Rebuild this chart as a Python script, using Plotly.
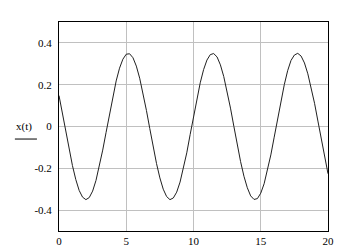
import plotly.graph_objects as go

t_values = [i * 0.25 for i in range(81)]
x_values = [
    0.148, 0.065, -0.022, -0.107, -0.187, -0.254, -0.306, -0.338, -0.350, -0.340,
    -0.309, -0.258, -0.191, -0.113, -0.028, 0.059, 0.143, 0.218, 0.279, 0.322,
    0.346, 0.348, 0.329, 0.289, 0.231, 0.159, 0.077, -0.010, -0.097, -0.177,
    -0.246, -0.300, -0.335, -0.350, -0.342, -0.314, -0.266, -0.202, -0.126, -0.039,
    0.048, 0.132, 0.209, 0.272, 0.318, 0.344, 0.349, 0.333, 0.295, 0.239,
    0.169, 0.088, 0.001, -0.086, -0.168, -0.238, -0.293, -0.332, -0.349, -0.345,
    -0.319, -0.274, -0.212, -0.136, -0.051, 0.036, 0.122, 0.200, 0.267, 0.316,
    0.342, 0.350, 0.337, 0.304, 0.252, 0.187, 0.111, 0.026, -0.061, -0.144,
    -0.226,
]
x_ticks = [0, 5, 10, 15, 20]
y_ticks = [-0.4, -0.2, 0, 0.2, 0.4]
y_tick_labels = ["-0.4", "-0.2", "0", "0.2", "0.4"]
y_label = "x(t)"

font = dict(family="Liberation Serif", size=11, color="#000000")

fig = go.Figure()
fig.add_trace(go.Scatter(x=t_values, y=x_values, mode="lines",
                         line=dict(color="#202020", width=1), hoverinfo="skip"))

fig.update_layout(
    width=348, height=250,
    margin=dict(l=59, r=20, t=22, b=19, autoexpand=False),
    paper_bgcolor="white", plot_bgcolor="white",
    showlegend=False, font=font,
    xaxis=dict(range=[0, 20], tickvals=x_ticks, ticktext=[str(v) for v in x_ticks],
               showgrid=True, gridcolor="#c0c0c0", gridwidth=1,
               showline=True, linecolor="#000000", linewidth=1, mirror=True,
               zeroline=False, ticks="", ticklabelstandoff=0, tickfont=font,
               automargin=False),
    yaxis=dict(range=[-0.5, 0.5], tickvals=y_ticks, ticktext=y_tick_labels,
               showgrid=True, gridcolor="#c0c0c0", gridwidth=1,
               showline=True, linecolor="#000000", linewidth=1, mirror=True,
               zeroline=False, ticks="", ticklabelstandoff=4, tickfont=font,
               automargin=False),
    annotations=[dict(text=y_label, xref="paper", yref="paper",
                      x=-0.13, y=0.498, xanchor="center", yanchor="middle",
                      showarrow=False, font=font)],
    shapes=[dict(type="line", xref="paper", yref="paper",
                 x0=-0.164, x1=-0.082, y0=0.44, y1=0.44,
                 line=dict(color="#000000", width=1))],
)

fig.write_html("out.html")
